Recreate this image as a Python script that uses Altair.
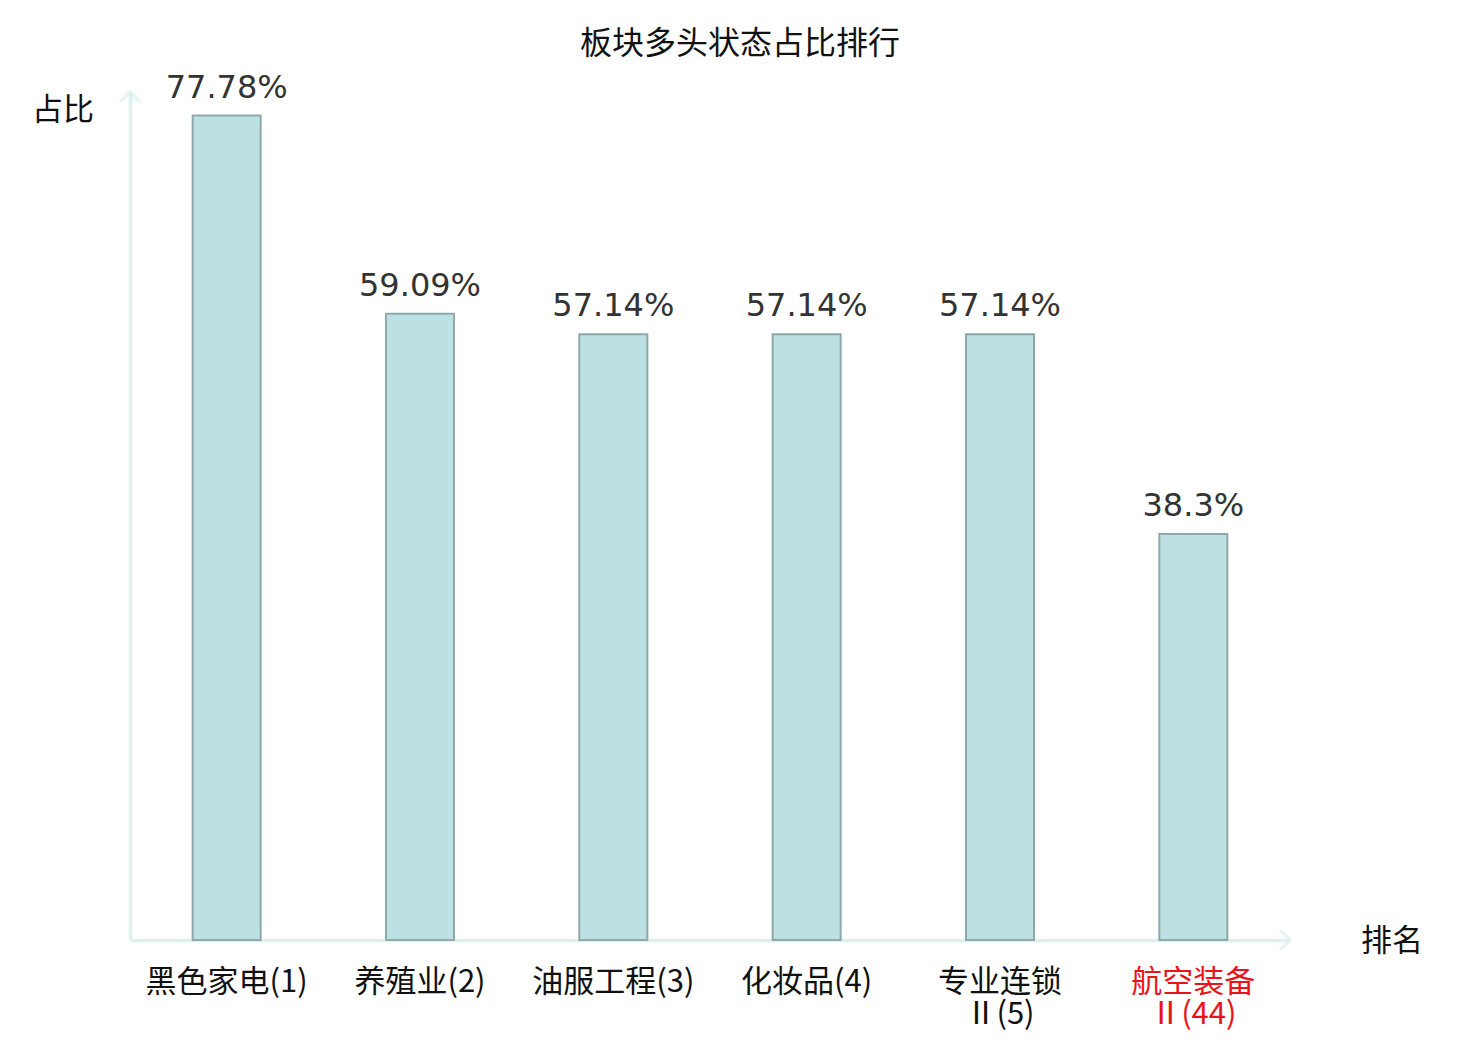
import altair as alt
import pandas as pd

categories = ["黑色家电(1)", "养殖业(2)", "油服工程(3)", "化妆品(4)", "专业连锁|Ⅱ(5)", "航空装备|Ⅱ(44)"]
values = [77.78, 59.09, 57.14, 57.14, 57.14, 38.3]
value_labels = ["77.78%", "59.09%", "57.14%", "57.14%", "57.14%", "38.3%"]
highlight = "航空装备|Ⅱ(44)"

df = pd.DataFrame({"cat": categories, "val": values, "lab": value_labels})
one = alt.Data(values=[{"k": 1}])

W, H = 1160, 848
AXIS_COLOR = "#dff1ef"
CJK = "Noto Sans CJK SC"

x_enc = alt.X(
    "cat:N",
    sort=categories,
    scale=alt.Scale(paddingInner=0, paddingOuter=0),
    axis=alt.Axis(
        title=None,
        labelAngle=0,
        ticks=False,
        grid=False,
        domainColor=AXIS_COLOR,
        domainWidth=3.5,
        labelFont=CJK,
        labelFontSize=31,
        labelPadding=27,
        labelLineHeight=32,
        labelExpr="split(datum.label, '|')",
        labelColor=alt.expr(f"datum.value == '{highlight}' ? '#e8141a' : '#111111'"),
    ),
)
y_enc = alt.Y(
    "val:Q",
    scale=alt.Scale(domain=[0, 80], nice=False),
    axis=alt.Axis(
        title=None, labels=False, ticks=False, grid=False,
        domainColor=AXIS_COLOR, domainWidth=3.5,
    ),
)

base = alt.Chart(df)
bars = base.mark_bar(size=68, fill="#bde0e3", stroke="#8da9aa", strokeWidth=2).encode(x=x_enc, y=y_enc)
vals = base.mark_text(
    font="DejaVu Sans", fontSize=32, color="#333333", baseline="alphabetic", dy=-18
).encode(x=alt.X("cat:N", sort=categories), y="val:Q", text="lab:N")

up_arrow = alt.Chart(one).mark_point(
    shape="M-1,1L0,0L1,1", size=400, filled=False, stroke=AXIS_COLOR, strokeWidth=3.5
).encode(x=alt.value(0), y=alt.value(0))
right_arrow = alt.Chart(one).mark_point(
    shape="M-1,-1L0,0L-1,1", size=400, filled=False, stroke=AXIS_COLOR, strokeWidth=3.5
).encode(x=alt.value(W), y=alt.value(H))

title_t = alt.Chart(one).mark_text(font=CJK, fontSize=32, color="#111111").encode(
    x=alt.value(610), y=alt.value(-48), text=alt.value("板块多头状态占比排行"))
ytitle = alt.Chart(one).mark_text(font=CJK, fontSize=31, color="#111111").encode(
    x=alt.value(-67), y=alt.value(19), text=alt.value("占比"))
xtitle = alt.Chart(one).mark_text(font=CJK, fontSize=31, color="#111111").encode(
    x=alt.value(1262), y=alt.value(850), text=alt.value("排名"))

chart = alt.layer(bars, vals, up_arrow, right_arrow, title_t, ytitle, xtitle).properties(
    width=W, height=H,
    autosize="none",
    padding={"left": 122, "top": 84, "right": 182, "bottom": 92},
    background="white",
).configure_view(stroke=None)

chart.save("out.html", embed_options={"renderer": "svg", "actions": False})
